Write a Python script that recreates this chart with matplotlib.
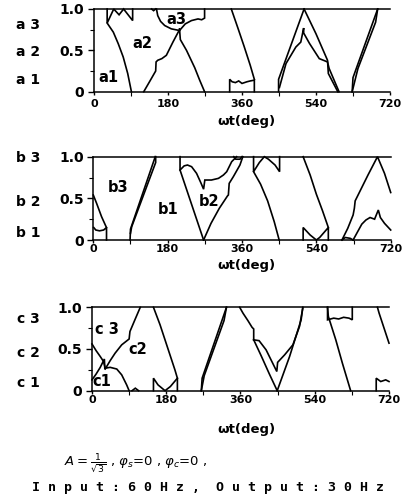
import matplotlib
matplotlib.use('Agg')
import matplotlib.pyplot as plt
from matplotlib.ticker import MultipleLocator

# ---------------- data (deg, value) ----------------
X_TICKS = [0, 180, 360, 540, 720]
X_TICK_LABELS = ['0', '180', '360', '540', '720']
Y_TICKS = [0, 0.5, 1.0]
Y_TICK_LABELS = ['0', '0.5', '1.0']

# panel a
a_desc1 = [(32, 0.83), (47, 0.72), (59, 0.58), (71, 0.42), (82, 0.22), (91, 0)]
a_top1 = [(32, 1.0), (32, 0.83), (48, 1.0), (61, 0.93), (72, 1.0), (94, 0.86), (94, 1.0)]
a_rise1 = [(121, 0), (135, 0.12), (150, 0.25), (151, 0.36), (155, 0.38), (165, 0.40), (176, 0.44),
           (192, 0.60), (208, 0.75)]
a_bowl = [(152, 1.0), (155, 0.92), (162, 0.85), (172, 0.80), (188, 0.76), (208, 0.74)]
a_blob = [(140, 1.0), (145, 0.98), (150, 1.0)]
a_up = [(208, 0.74), (222, 0.82), (237, 0.86), (253, 0.88), (262, 0.87), (269, 0.89), (269, 1.0)]
a_down = [(208, 0.76), (210, 0.63), (225, 0.50), (245, 0.29), (257, 0.14), (269, 0)]
a_box = [(330, 0), (330, 0.15), (336, 0.12), (344, 0.11), (352, 0.13), (360, 0.10), (372, 0.12),
         (380, 0.13), (390, 0.14), (390, 0)]
a_desc2 = [(334, 1.0), (350, 0.77), (365, 0.55), (380, 0.32), (390, 0.15)]
a_tri_left = [(449, 0), (449, 0.15), (511, 1.0)]
a_tri_right = [(511, 1.0), (540, 0.70), (568, 0.38), (570, 0.22), (593, 0)]
a_tri_inner = [(451, 0.05), (467, 0.34), (491, 0.54), (503, 0.60), (510, 0.77), (510, 0.71),
               (524, 0.585), (548, 0.40), (568, 0.36), (572, 0.28), (596, 0)]
a_right_a = [(628, 0), (630, 0.17), (690, 1.0)]
a_right_b = [(628, 0), (642, 0.28), (685, 0.84), (690, 1.0)]

# panel b
b_left_a = [(0, 0.54), (8, 0.44), (20, 0.28), (30, 0.17), (32, 0.15)]
b_left_b = [(1, 0.15), (6, 0.12), (15, 0.11), (25, 0.12), (32, 0.15), (32, 0)]
b_rise_a = [(89, 0), (90, 0.13), (150, 1.0)]
b_rise_b = [(90, 0.08), (93, 0.16), (151, 0.93), (151, 1.0)]
b_v_left = [(210, 1.0), (210, 0.84), (267, 0)]
b_bowl = [(210, 0.84), (220, 0.89), (228, 0.90), (238, 0.88), (250, 0.80), (261, 0.68), (267, 0.61),
          (270, 0.72), (286, 0.72), (303, 0.74), (315, 0.78), (323, 0.82), (335, 0.94), (343, 0.98),
          (347, 1.0)]
b_v_right = [(267, 0), (285, 0.20), (305, 0.38), (325, 0.53), (327, 0.54), (329, 0.68), (339, 0.76),
             (355, 0.90), (362, 1.0)]
b_blob = [(340, 1.0), (345, 0.97), (355, 0.97), (360, 1.0)]
b_top = [(388, 1.0), (388, 0.82), (402, 0.93), (414, 1.0), (424, 0.97), (440, 0.90), (451, 0.82),
         (451, 1.0)]
b_desc1 = [(388, 0.82), (405, 0.67), (422, 0.47), (438, 0.22), (450, 0)]
b_tri = [(508, 0), (508, 0.15), (525, 0.06), (540, 0), (548, 0.03), (569, 0.15), (569, 0)]
b_desc2 = [(508, 1.0), (525, 0.78), (540, 0.55), (555, 0.35), (569, 0.15)]
b_rise2 = [(602, 0), (616, 0.14), (629, 0.30), (632, 0.38), (634, 0.47), (650, 0.63), (665, 0.78),
           (688, 1.0), (705, 0.80), (720, 0.57)]
b_low = [(629, 0), (640, 0.10), (650, 0.19), (660, 0.24), (670, 0.27), (681, 0.25), (690, 0.36),
         (695, 0.27), (705, 0.20), (720, 0.12)]
b_bump = [(602, 0), (610, 0.03), (622, 0.02), (629, 0)]

# panel c
c_desc0 = [(0, 0.56), (10, 0.48), (20, 0.41), (28, 0.35), (32, 0.27)]
c_rise0 = [(0, 0.13), (10, 0.20), (20, 0.28), (30, 0.38), (31, 0.27)]
c_dome = [(32, 0.27), (44, 0.28), (60, 0.26), (72, 0.19), (84, 0.07), (90, 0)]
c_rise1 = [(32, 0.26), (44, 0.36), (56, 0.45), (72, 0.55), (90, 0.62), (92, 0.71), (104, 0.85),
           (117, 1.0)]
c_bump = [(97, 0), (105, 0.03), (113, 0)]
c_desc1 = [(149, 1.0), (165, 0.79), (185, 0.49), (201, 0.25), (207, 0.15), (207, 0)]
c_v = [(149, 0), (149, 0.15), (160, 0.07), (177, 0), (190, 0.05), (207, 0.15)]
c_rise_a = [(265, 0), (267, 0.15), (326, 1.0)]
c_rise_b = [(265, 0), (272, 0.18), (320, 0.84), (326, 1.0)]
c_desc2 = [(358, 1.0), (366, 0.93), (378, 0.84), (388, 0.76), (392, 0.74), (392, 0.61)]
c_v_left = [(392, 0.61), (410, 0.42), (430, 0.20), (449, 0)]
c_inner = [(392, 0.61), (405, 0.60), (422, 0.49), (438, 0.33), (448, 0.23), (450, 0.34), (467, 0.43),
           (487, 0.55), (503, 0.77), (511, 0.99)]
c_v_right = [(449, 0), (479, 0.41), (507, 0.85), (511, 1.0)]
c_desc3 = [(571, 1.0), (573, 0.89), (591, 0.61), (607, 0.33), (627, 0)]
c_box = [(571, 1.0), (571, 0.85), (586, 0.87), (598, 0.86), (610, 0.88), (623, 0.87), (631, 0.85),
         (631, 1.0)]
c_desc4 = [(692, 1.0), (696, 0.93), (708, 0.75), (720, 0.57)]
c_box2 = [(689, 0), (689, 0.15), (700, 0.11), (712, 0.13), (720, 0.11)]

A_CURVES = [a_desc1, a_top1, a_rise1, a_bowl, a_blob, a_up, a_down, a_box, a_desc2,
            a_tri_left, a_tri_right, a_tri_inner, a_right_a, a_right_b]
B_CURVES = [b_left_a, b_left_b, b_rise_a, b_rise_b, b_v_left, b_bowl, b_v_right, b_blob, b_top,
            b_desc1, b_tri, b_desc2, b_rise2, b_low, b_bump]
C_CURVES = [c_desc0, c_rise0, c_dome, c_rise1, c_bump, c_desc1, c_v, c_rise_a, c_rise_b, c_desc2,
            c_v_left, c_inner, c_v_right, c_desc3, c_box, c_desc4, c_box2]

A_ROW_LABELS = ['a 3', 'a 2', 'a 1']
B_ROW_LABELS = ['b 3', 'b 2', 'b 1']
C_ROW_LABELS = ['c 3', 'c 2', 'c 1']
A_IN_LABELS = ['a1', 'a2', 'a3']
B_IN_LABELS = ['b3', 'b1', 'b2']
C_IN_LABELS = ['c 3', 'c2', 'c1']

# ---------------- drawing ----------------
W, H = 403, 503
fig = plt.figure(figsize=(W / 100, H / 100), dpi=100)
fig.patch.set_facecolor('white')


def fx(px):
    return px / W


def fy(py):
    return 1 - py / H


panels = [
    dict(box=(94, 9, 390, 91.7), curves=A_CURVES, rows=A_ROW_LABELS, rows_py=(25, 52, 80),
         inl=A_IN_LABELS, inl_pos=((108, 77), (142, 43), (176, 20)), xl_py=121, xpad=2.5),
    dict(box=(93.3, 156.7, 390.7, 240), curves=B_CURVES, rows=B_ROW_LABELS, rows_py=(158, 202, 233),
         inl=B_IN_LABELS, inl_pos=((118, 188), (168, 210), (209, 202)), xl_py=265, xpad=0.5),
    dict(box=(92, 307.3, 389, 390.7), curves=C_CURVES, rows=C_ROW_LABELS, rows_py=(319, 353, 383),
         inl=C_IN_LABELS, inl_pos=((107, 329), (138, 350), (102, 381)), xl_py=430, xpad=0.5),
]

for p in panels:
    x0, yt, x1, yb = p['box']
    ax = fig.add_axes([fx(x0), fy(yb), (x1 - x0) / W, (yb - yt) / H])
    ax.set_xlim(0, 720)
    ax.set_ylim(0, 1)
    ax.spines['right'].set_visible(False)
    for s in ('left', 'bottom', 'top'):
        ax.spines[s].set_linewidth(1.1)
    for c in p['curves']:
        xs = [q[0] for q in c]
        ys = [q[1] for q in c]
        ax.plot(xs, ys, color='black', lw=1.2, clip_on=False, solid_joinstyle='miter')
    ax.set_xticks(X_TICKS)
    ax.set_xticklabels(X_TICK_LABELS, fontsize=8, fontweight='bold')
    ax.xaxis.set_minor_locator(MultipleLocator(90))
    ax.set_yticks(Y_TICKS)
    ax.set_yticklabels(Y_TICK_LABELS, fontsize=10, fontweight='bold')
    ax.yaxis.set_minor_locator(MultipleLocator(0.25))
    ax.tick_params(axis='both', which='major', direction='out', length=4, width=1, pad=3)
    ax.tick_params(axis='both', which='minor', direction='out', length=3, width=0.8)
    ax.tick_params(axis='x', which='major', length=2.5, pad=p['xpad'])
    ax.patch.set_alpha(0)

    for lab, py in zip(p['rows'], p['rows_py']):
        fig.text(fx(28), fy(py), lab, fontsize=10, fontweight='bold', ha='center', va='center')
    for lab, (px, py) in zip(p['inl'], p['inl_pos']):
        fig.text(fx(px), fy(py), lab, fontsize=10.5, fontweight='bold', ha='center', va='center')
    fig.text(fx(246), fy(p['xl_py']), 'ωt(deg)', fontsize=9.5, fontweight='bold',
             ha='center', va='center')

fig.text(fx(136), fy(463),
         r'$A=\frac{1}{\sqrt{3}}$ , $\varphi_s$=0 , $\varphi_c$=0 ,',
         fontsize=9.5, ha='center', va='center')
fig.text(fx(208), fy(487), 'I n p u t : 6 0 H z ,  O u t p u t : 3 0 H z',
         fontsize=9.5, fontweight='bold', family='DejaVu Sans Mono', ha='center', va='center')

fig.savefig('out.png', dpi=100, facecolor='white')
